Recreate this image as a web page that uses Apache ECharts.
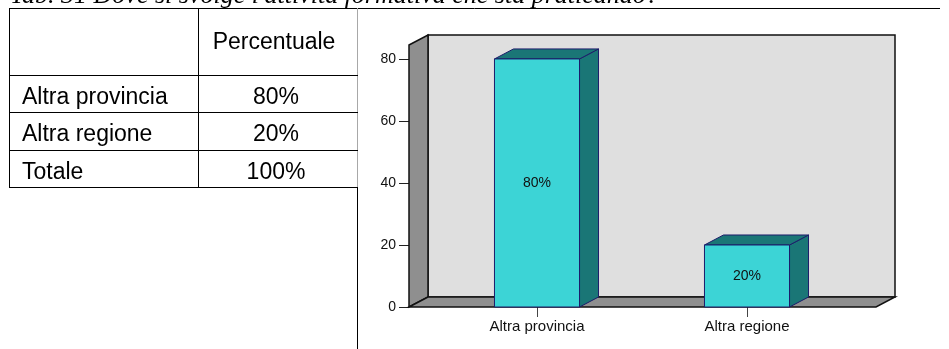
<!DOCTYPE html>
<html>
<head>
<meta charset="utf-8">
<script src="https://cdn.jsdelivr.net/npm/echarts@6/dist/echarts.min.js"></script>
<style>
  html, body { margin: 0; padding: 0; background: #fff; }
  #main { width: 949px; height: 349px; }
</style>
</head>
<body>
<div id="main"></div>
<script>
var titleText = "Tab. 31 Dove si svolge l'attività formativa che sta praticando?";
var categories = ['Altra provincia', 'Altra regione'];
var values = [80, 20];
var yTicks = [0, 20, 40, 60, 80];
var tableHeader = 'Percentuale';
var tableRows = ['Altra provincia', 'Altra regione', 'Totale'];
var tableValues = ['80%', '20%', '100%'];

var chart = {};
var DX = 19, DY = 10;   // depth of the 3d look

chart.init = function () {
    chart.render();
};

// back wall, side wall and floor, built from the grid rect
chart.renderWalls = function (params, api) {
    var cs = params.coordSys;
    var left = cs.x - 23, right = cs.x + cs.width + 24;
    var top = cs.y, bottom = cs.y + cs.height;
    var edge = { stroke: '#111', lineWidth: 1.5 };
    return {
        type: 'group',
        children: [
            { type: 'polygon', shape: { points: [[left + DX, top - DY], [right + DX, top - DY], [right + DX, bottom - DY], [left + DX, bottom - DY]] },
              style: { fill: '#dfdfdf', stroke: edge.stroke, lineWidth: edge.lineWidth } },
            { type: 'polygon', shape: { points: [[left, top], [left + DX, top - DY], [left + DX, bottom - DY], [left, bottom]] },
              style: { fill: '#8f8f8f', stroke: edge.stroke, lineWidth: edge.lineWidth } },
            { type: 'polygon', shape: { points: [[left, bottom], [left + DX, bottom - DY], [right + DX, bottom - DY], [right, bottom]] },
              style: { fill: '#8f8f8f', stroke: edge.stroke, lineWidth: edge.lineWidth } }
        ]
    };
};

chart.renderBar = function (params, api) {
    var topPt = api.coord([api.value(0), api.value(1)]);
    var basePt = api.coord([api.value(0), 0]);
    var w = api.size([1, 0])[0] * 0.405;
    var x0 = topPt[0] - w / 2, x1 = topPt[0] + w / 2;
    var yt = topPt[1], yb = basePt[1];
    var stroke = '#1c1c6a';
    return {
        type: 'group',
        children: [
            { type: 'polygon', shape: { points: [[x1, yt], [x1 + DX, yt - DY], [x1 + DX, yb - DY], [x1, yb]] },
              style: { fill: '#1a7676', stroke: stroke, lineWidth: 1 } },
            { type: 'polygon', shape: { points: [[x0, yt], [x0 + DX, yt - DY], [x1 + DX, yt - DY], [x1, yt]] },
              style: { fill: '#1a7676', stroke: stroke, lineWidth: 1 } },
            { type: 'rect', shape: { x: x0, y: yt, width: w, height: yb - yt },
              style: { fill: '#3cd4d6', stroke: stroke, lineWidth: 1 } },
            { type: 'text', x: topPt[0], y: (yt + yb) / 2,
              style: { text: api.value(1) + '%', fill: '#111', font: '14px "Liberation Sans"',
                       align: 'center', verticalAlign: 'middle', textAlign: 'center', textVerticalAlign: 'middle' } }
        ]
    };
};

chart.tableGraphics = function () {
    var els = [];
    var black = '#000';
    function line(x1, y1, x2, y2, color) {
        els.push({ type: 'line', shape: { x1: x1, y1: y1, x2: x2, y2: y2 },
                   style: { stroke: color || black, lineWidth: 1 } });
    }
    function text(str, x, y, align) {
        els.push({ type: 'text', x: x, y: y,
                   style: { text: str, fill: '#000', font: '23px "Liberation Sans"',
                            align: align, verticalAlign: 'middle', textAlign: align, textVerticalAlign: 'middle' } });
    }
    var rowLines = [75.5, 112.5, 150.5, 187.5];
    var rowMid = [98, 135, 172.5];
    line(9, 8.5, 940, 8.5);
    line(9.5, 8, 9.5, 188);
    line(198.5, 8, 198.5, 188);
    line(357.5, 8, 357.5, 187, '#a8a8a8');
    line(357.5, 187, 357.5, 349);
    rowLines.forEach(function (y) { line(9, y, 358, y); });
    text(tableHeader, 274, 43, 'center');
    tableRows.forEach(function (name, i) {
        text(name, 22, rowMid[i], 'left');
        text(tableValues[i], 276, rowMid[i], 'center');
    });
    els.push({ type: 'text', x: 10, y: 9,
               style: { text: titleText, fill: '#000', font: 'italic 26px "Liberation Serif"',
                        align: 'left', verticalAlign: 'bottom', textAlign: 'left', textVerticalAlign: 'bottom' } });
    return els;
};

chart.render = function () {
    var myChart = echarts.init(document.getElementById('main'), null, { renderer: 'canvas' });
    var option = {
        animation: false,
        backgroundColor: '#fff',
        graphic: { elements: chart.tableGraphics() },
        grid: { left: 432, right: 97, top: 45, bottom: 42 },
        xAxis: {
            type: 'category',
            data: categories,
            axisLine: { show: false },
            axisTick: { show: true, alignWithLabel: true, length: 10, lineStyle: { color: '#444' } },
            axisLabel: { margin: 12, color: '#111', fontSize: 15, fontFamily: 'Liberation Sans' },
            splitLine: { show: false }
        },
        yAxis: {
            type: 'value',
            min: 0,
            max: 84.5,
            offset: 23,
            axisLine: { show: false },
            axisTick: { show: true, length: 10, customValues: yTicks, lineStyle: { color: '#222' } },
            axisLabel: { margin: 13, color: '#111', fontSize: 14, fontFamily: 'Liberation Sans', customValues: yTicks },
            splitLine: { show: false }
        },
        series: [
            {
                type: 'custom',
                z: 1,
                clip: false,
                renderItem: chart.renderWalls,
                data: [[0, 0]],
                silent: true
            },
            {
                type: 'custom',
                z: 2,
                clip: false,
                renderItem: chart.renderBar,
                data: values.map(function (v, i) { return [i, v]; })
            }
        ]
    };
    myChart.setOption(option);
};

chart.init();
</script>
</body>
</html>
